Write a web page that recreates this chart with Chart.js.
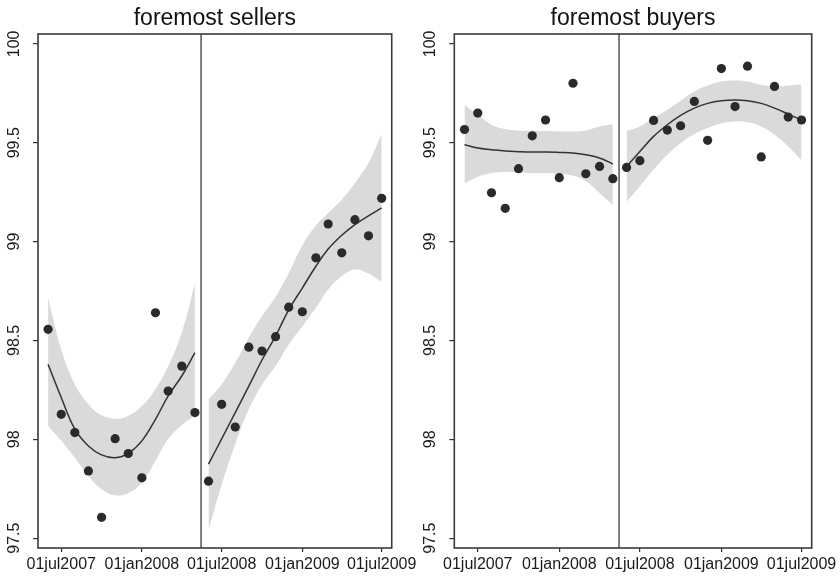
<!DOCTYPE html>
<html>
<head>
<meta charset="utf-8">
<script src="https://cdn.jsdelivr.net/npm/chart.js@4/dist/chart.umd.min.js"></script>
<style>
  html, body { margin: 0; padding: 0; background: #fff; }
  #wrap { display: flex; width: 840px; height: 577px; }
  canvas { display: block; }
</style>
</head>
<body>
<div id="wrap">
  <canvas id="sellers" width="420" height="577"></canvas>
  <canvas id="buyers" width="420" height="577"></canvas>
</div>
<script>
// Monthly observation dates, before and after the break
const monthsPre = ['2007-06-01', '2007-07-01', '2007-08-01', '2007-09-01', '2007-10-01', '2007-11-01',
                   '2007-12-01', '2008-01-01', '2008-02-01', '2008-03-01', '2008-04-01', '2008-05-01'];
const monthsPost = ['2008-06-01', '2008-07-01', '2008-08-01', '2008-09-01', '2008-10-01', '2008-11-01',
                    '2008-12-01', '2009-01-01', '2009-02-01', '2009-03-01', '2009-04-01', '2009-05-01',
                    '2009-06-01', '2009-07-01'];
const breakDate = '2008-05-15';

const xTickDates = ['2007-07-01', '2008-01-01', '2008-07-01', '2009-01-01', '2009-07-01'];
const xTickLabels = ['01jul2007', '01jan2008', '01jul2008', '01jan2009', '01jul2009'];
const yTickValues = [97.5, 98, 98.5, 99, 99.5, 100];
const yTickLabels = ['97.5', '98', '98.5', '99', '99.5', '100'];

// foremost sellers: observations, smoothed fit, confidence band
const sellersPre    = [98.556, 98.126, 98.034, 97.840, 97.605, 98.003, 97.928, 97.805, 98.640, 98.244, 98.370, 98.135];
const sellersPreFit = [98.379, 98.211, 98.051, 97.966, 97.921, 97.907, 97.929, 97.992, 98.101, 98.219, 98.320, 98.438];
const sellersPreHi  = [98.716, 98.455, 98.278, 98.177, 98.121, 98.104, 98.118, 98.168, 98.253, 98.370, 98.539, 98.788];
const sellersPreLo  = [98.067, 97.992, 97.907, 97.815, 97.747, 97.717, 97.727, 97.781, 97.891, 98.000, 98.071, 98.120];

const sellersPost    = [97.788, 98.177, 98.062, 98.466, 98.446, 98.519, 98.668, 98.645, 98.918, 99.089, 98.943, 99.111, 99.029, 99.219];
const sellersPostFit = [97.874, 98.002, 98.135, 98.269, 98.401, 98.522, 98.655, 98.765, 98.875, 98.962, 99.032, 99.086, 99.130, 99.170];
const sellersPostHi  = [98.202, 98.278, 98.387, 98.514, 98.623, 98.720, 98.840, 98.980, 99.081, 99.145, 99.212, 99.296, 99.397, 99.545];
const sellersPostLo  = [97.540, 97.770, 97.975, 98.152, 98.275, 98.370, 98.480, 98.570, 98.665, 98.758, 98.825, 98.859, 98.838, 98.795];

// foremost buyers: observations, smoothed fit, confidence band
const buyersPre    = [99.567, 99.650, 99.247, 99.168, 99.369, 99.535, 99.615, 99.323, 99.801, 99.343, 99.380, 99.318];
const buyersPreFit = [99.490, 99.473, 99.465, 99.458, 99.455, 99.453, 99.453, 99.451, 99.448, 99.439, 99.423, 99.392];
const buyersPreHi  = [99.692, 99.641, 99.591, 99.569, 99.562, 99.561, 99.559, 99.557, 99.557, 99.562, 99.582, 99.594];
const buyersPreLo  = [99.295, 99.327, 99.347, 99.352, 99.350, 99.347, 99.347, 99.342, 99.333, 99.305, 99.246, 99.185];

const buyersPost    = [99.375, 99.409, 99.613, 99.564, 99.586, 99.709, 99.512, 99.875, 99.683, 99.887, 99.428, 99.785, 99.630, 99.615];
const buyersPostFit = [99.380, 99.456, 99.532, 99.591, 99.638, 99.675, 99.699, 99.712, 99.716, 99.712, 99.699, 99.675, 99.645, 99.614];
const buyersPostHi  = [99.560, 99.582, 99.625, 99.667, 99.712, 99.759, 99.790, 99.810, 99.815, 99.810, 99.793, 99.785, 99.790, 99.795];
const buyersPostLo  = [99.200, 99.280, 99.364, 99.439, 99.498, 99.544, 99.574, 99.599, 99.608, 99.603, 99.582, 99.540, 99.481, 99.411];

// day number for an ISO date string
const toDay = s => Date.UTC(+s.slice(0, 4), +s.slice(5, 7) - 1, +s.slice(8, 10)) / 864e5;
const pts = (dates, vals) => dates.map((d, i) => ({ x: toDay(d), y: vals[i] }));

const BAND = '#dadada';
const INK = '#2a2a2a';
const FONT = '"Liberation Sans", Arial, Helvetica, sans-serif';

Chart.defaults.font.family = FONT;
Chart.defaults.font.size = 16;
Chart.defaults.color = '#1a1a1a';

function bandEdge(dates, vals, fill) {
  return { data: pts(dates, vals), borderWidth: 0, pointRadius: 0, tension: 0.4,
           fill: fill, backgroundColor: BAND, borderColor: 'rgba(0,0,0,0)', order: 2 };
}
function fitLine(dates, vals) {
  return { data: pts(dates, vals), borderWidth: 1.5, borderColor: '#333', pointRadius: 0,
           tension: 0.4, fill: false, order: 1 };
}

// frame, break line and panel title
const panelDecor = {
  id: 'panelDecor',
  afterDatasetsDraw(chart, args, opts) {
    const { ctx, chartArea: a, scales } = chart;
    ctx.save();
    const bx = scales.x.getPixelForValue(toDay(breakDate));
    ctx.strokeStyle = '#555';
    ctx.lineWidth = 1.5;
    ctx.beginPath();
    ctx.moveTo(bx, a.top);
    ctx.lineTo(bx, a.bottom);
    ctx.stroke();
    ctx.strokeStyle = '#3a3a3a';
    ctx.lineWidth = 1.6;
    ctx.strokeRect(a.left, a.top, a.right - a.left, a.bottom - a.top);
    ctx.fillStyle = '#111';
    ctx.font = '23px ' + FONT;
    ctx.textAlign = 'center';
    ctx.textBaseline = 'alphabetic';
    ctx.fillText(opts.title, (a.left + a.right) / 2, 25);
    ctx.restore();
  }
};

function makePanel(id, title, pre, preFit, preHi, preLo, post, postFit, postHi, postLo, axisW, padRight) {
  return new Chart(document.getElementById(id), {
    type: 'line',
    data: {
      datasets: [
        bandEdge(monthsPre, preHi, false),
        bandEdge(monthsPre, preLo, '-1'),
        bandEdge(monthsPost, postHi, false),
        bandEdge(monthsPost, postLo, '-1'),
        fitLine(monthsPre, preFit),
        fitLine(monthsPost, postFit),
        { data: pts(monthsPre, pre).concat(pts(monthsPost, post)), showLine: false,
          pointRadius: 4.6, pointBackgroundColor: INK, pointBorderWidth: 0, order: 0 }
      ]
    },
    options: {
      responsive: false,
      devicePixelRatio: 1,
      animation: false,
      events: [],
      layout: { padding: { top: 34, right: padRight, left: 0, bottom: 0 } },
      plugins: { legend: { display: false }, tooltip: { enabled: false }, panelDecor: { title } },
      scales: {
        x: {
          type: 'linear',
          min: toDay('2007-05-09'),
          max: toDay('2009-07-24'),
          afterBuildTicks: s => { s.ticks = xTickDates.map(d => ({ value: toDay(d) })); },
          afterFit: s => { s.height = 29; },
          grid: { drawOnChartArea: false, drawTicks: true, tickLength: 4, color: '#333', lineWidth: 1.2 },
          border: { display: false },
          ticks: {
            autoSkip: false, maxRotation: 0, padding: 3,
            callback: v => xTickLabels[xTickDates.findIndex(d => toDay(d) === v)]
          }
        },
        y: {
          type: 'linear',
          min: 97.45,
          max: 100.05,
          afterBuildTicks: s => { s.ticks = yTickValues.map(v => ({ value: v })); },
          afterFit: s => { s.width = axisW; },
          grid: { drawOnChartArea: false, drawTicks: true, tickLength: 5, color: '#333', lineWidth: 1.2 },
          border: { display: false },
          ticks: {
            autoSkip: false, minRotation: 90, maxRotation: 90, crossAlign: 'center', padding: 3,
            callback: v => yTickLabels[yTickValues.indexOf(v)]
          }
        }
      }
    },
    plugins: [panelDecor]
  });
}

makePanel('sellers', 'foremost sellers', sellersPre, sellersPreFit, sellersPreHi, sellersPreLo,
          sellersPost, sellersPostFit, sellersPostHi, sellersPostLo, 38, 23);
makePanel('buyers', 'foremost buyers', buyersPre, buyersPreFit, buyersPreHi, buyersPreLo,
          buyersPost, buyersPostFit, buyersPostHi, buyersPostLo, 34.3, 27.3);
</script>
</body>
</html>
